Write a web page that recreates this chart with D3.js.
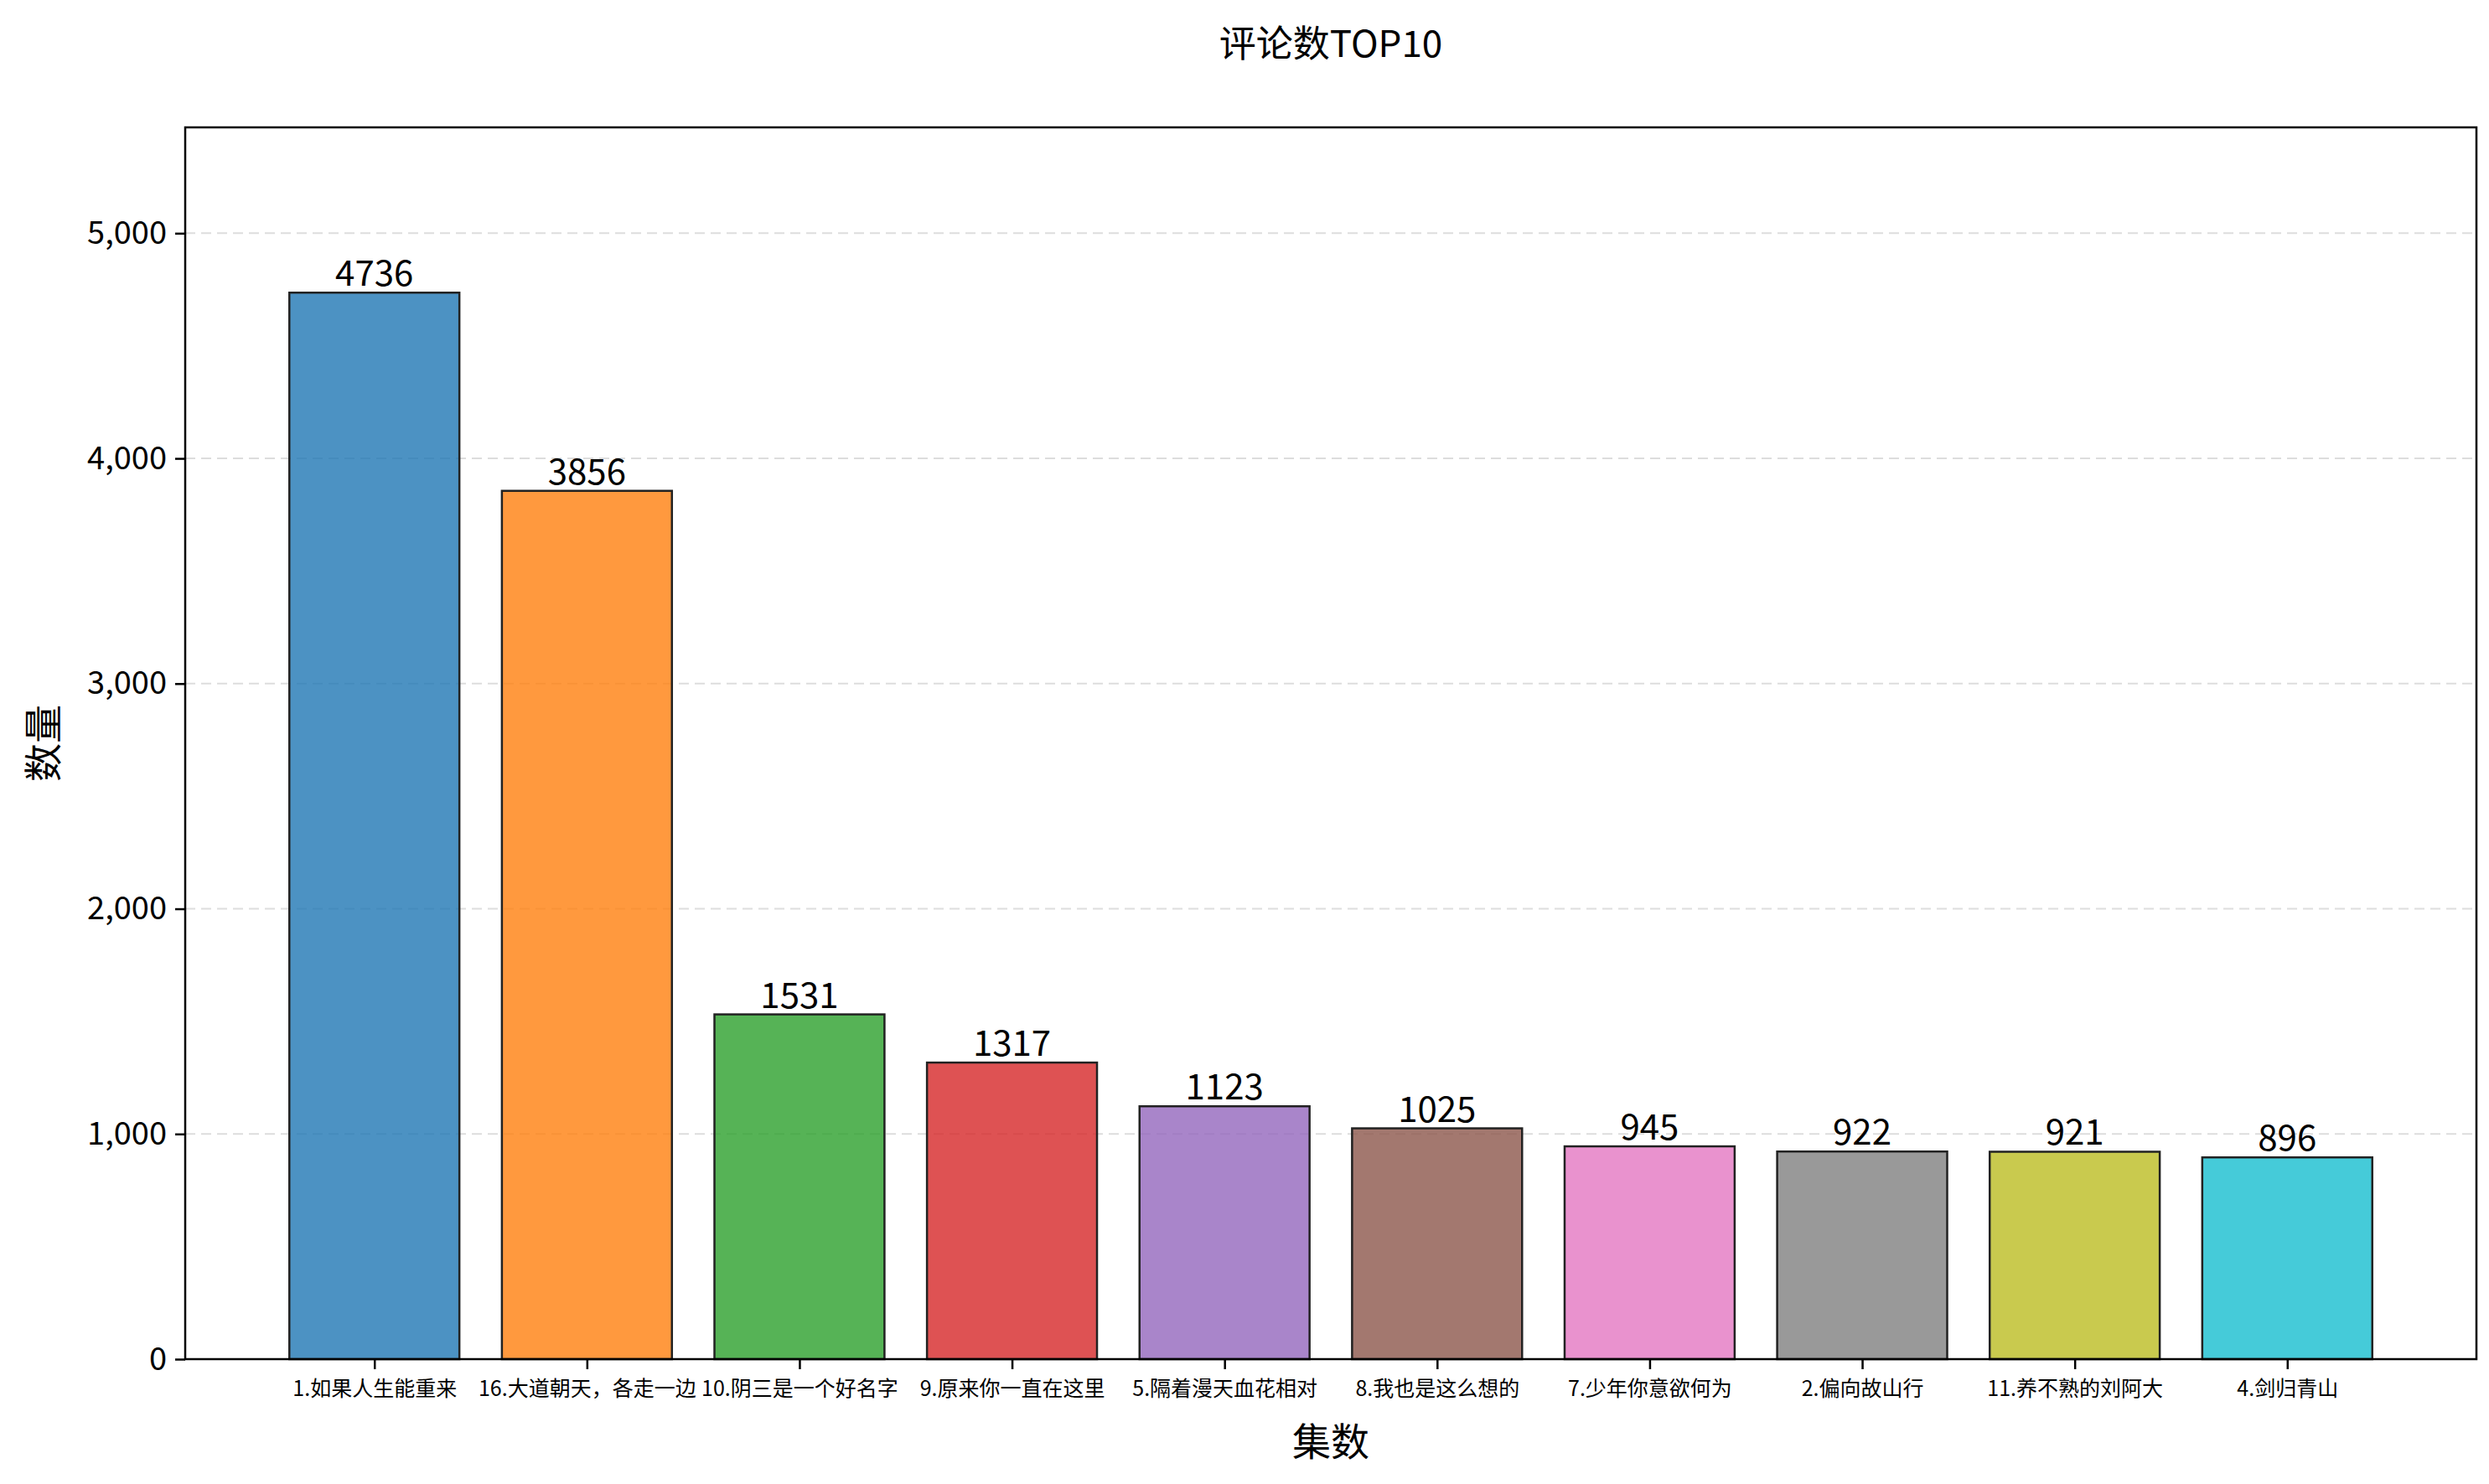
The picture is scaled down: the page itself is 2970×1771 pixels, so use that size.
<!DOCTYPE html>
<html><head><meta charset="utf-8">
<script src="https://cdn.jsdelivr.net/npm/d3@7"></script>
<style>body{margin:0;background:#fff}text{font-family:"Noto Sans CJK SC",sans-serif}</style>
</head><body><svg id="chart" width="2970" height="1771"></svg>
<script>
// episode names and comment counts
const episodes = ["1.如果人生能重来","16.大道朝天，各走一边","10.阴三是一个好名字","9.原来你一直在这里","5.隔着漫天血花相对","8.我也是这么想的","7.少年你意欲何为","2.偏向故山行","11.养不熟的刘阿大","4.剑归青山"];
const counts = [4736, 3856, 1531, 1317, 1123, 1025, 945, 922, 921, 896];
const colors = ["#1f77b4","#ff7f0e","#2ca02c","#d62728","#9467bd","#8c564b","#e377c2","#7f7f7f","#bcbd22","#17becf"];
const yTicks = [0, 1000, 2000, 3000, 4000, 5000];

const svg = d3.select("#chart");
const m = {left: 221, right: 2955, top: 152, bottom: 1622};

const x = d3.scaleLinear().domain([-0.89, episodes.length - 1 + 0.89]).range([m.left, m.right]);
const y = d3.scaleLinear().domain([0, d3.max(counts) * 1.155]).range([m.bottom, m.top]);
const bw = x(0.4) - x(-0.4);

// grid lines
svg.append("g").selectAll("line").data(yTicks).join("line")
    .attr("x1", m.left).attr("x2", m.right)
    .attr("y1", d => y(d)).attr("y2", d => y(d))
    .attr("stroke", "#ddd").attr("stroke-dasharray", "12,7").attr("stroke-width", 2);

// bars
svg.append("g").selectAll("rect").data(counts).join("rect")
    .attr("x", (d, i) => x(i) - bw / 2).attr("width", bw)
    .attr("y", d => y(d)).attr("height", d => y(0) - y(d))
    .attr("fill", (d, i) => colors[i]).attr("fill-opacity", 0.8)
    .attr("stroke", "#222").attr("stroke-width", 2.5);

// value labels
svg.append("g").selectAll("text").data(counts).join("text")
    .attr("x", (d, i) => x(i)).attr("y", d => y(d) - 8)
    .attr("text-anchor", "middle").attr("font-size", 42).text(d => d);

// axes
const yAxis = svg.append("g").attr("transform", `translate(${m.left},0)`)
    .call(d3.axisLeft(y).tickValues(yTicks).tickSize(12).tickPadding(10));
yAxis.selectAll("text").attr("font-size", 38).attr("fill", "#000");
const xAxis = svg.append("g").attr("transform", `translate(0,${m.bottom})`)
    .call(d3.axisBottom(x).tickValues(d3.range(episodes.length)).tickFormat(i => episodes[i]).tickSize(12).tickPadding(14));
xAxis.selectAll("text").attr("font-size", 25).attr("fill", "#000");
svg.selectAll(".domain").remove();
svg.selectAll(".tick line").attr("stroke", "#000").attr("stroke-width", 2.5);

// frame
svg.append("rect").attr("x", m.left).attr("y", m.top)
    .attr("width", m.right - m.left).attr("height", m.bottom - m.top)
    .attr("fill", "none").attr("stroke", "#000").attr("stroke-width", 2.5);

// titles
svg.append("text").attr("x", (m.left + m.right) / 2).attr("y", 68)
    .attr("text-anchor", "middle").attr("font-size", 44).text("评论数TOP10");
svg.append("text").attr("x", (m.left + m.right) / 2).attr("y", 1737)
    .attr("text-anchor", "middle").attr("font-size", 46).text("集数");
svg.append("text").attr("transform", `translate(68,${(m.top + m.bottom) / 2}) rotate(-90)`)
    .attr("text-anchor", "middle").attr("font-size", 46).text("数量");
</script></body></html>
